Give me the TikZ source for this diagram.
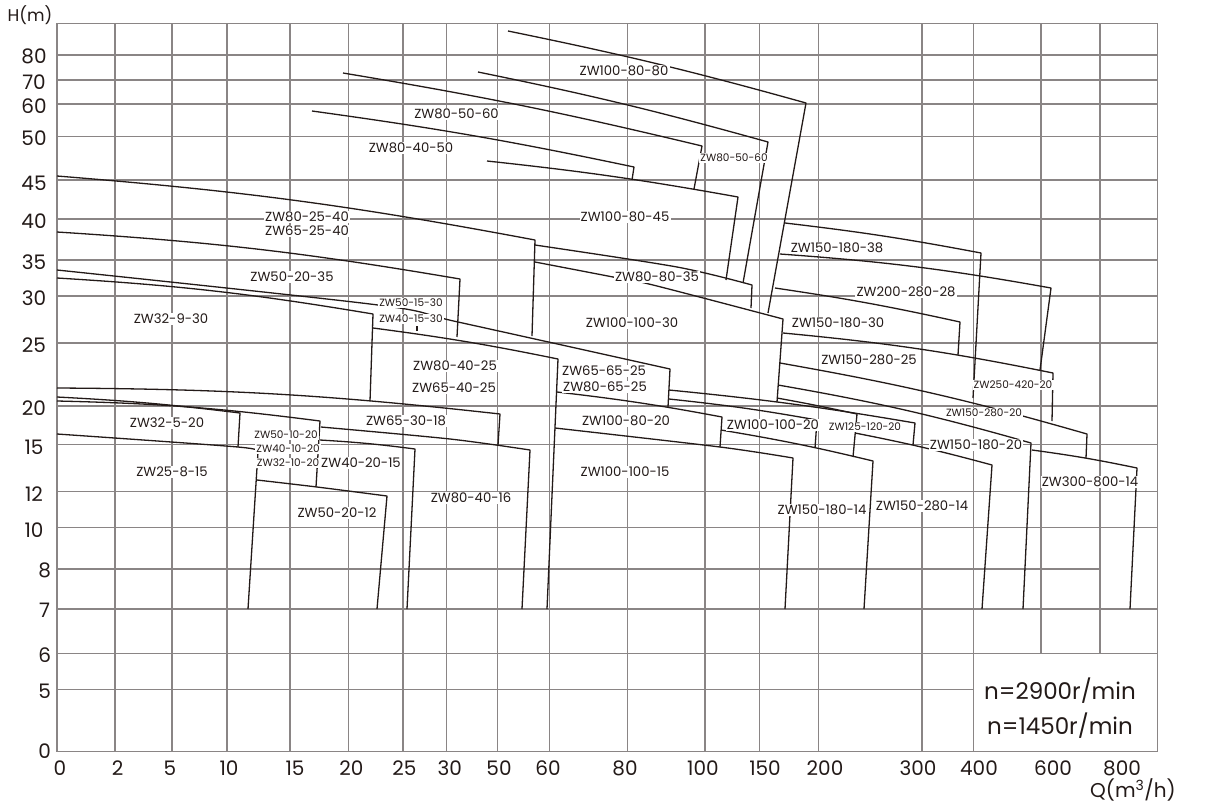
\documentclass[tikz,border=0pt]{standalone}
\usepackage{fontspec}
\setmainfont{Poppins}
\definecolor{gridc}{RGB}{138,133,133}
\definecolor{curvec}{RGB}{35,26,24}
\begin{document}
\begin{tikzpicture}[x=1pt,y=-1pt,
  gridline/.style={draw=gridc, line width=1.2pt},
  curve/.style={draw=curvec, line width=1.3pt, line join=round},
  lab/.style={fill=white, text=curvec, inner xsep=1.2pt, inner ysep=0.8pt, font=\fontsize{13.2}{15}\selectfont},
  labs/.style={lab, font=\fontsize{10.5}{12}\selectfont},
  axl/.style={text=curvec, inner sep=0pt, font=\fontsize{20}{22}\selectfont},
  legl/.style={text=curvec, inner sep=0pt, font=\fontsize{23}{26}\selectfont},
]
\fill[white] (0,0) rectangle (1220,804);
\useasboundingbox (0,0) rectangle (1220,804);

% ---------- grid ----------
\foreach \y in {55,80,104,136.3,180,219,260,296,343,406,444.7,491.7,527.7,609,653.3}
  \draw[gridline] (57,\y) -- (1157.5,\y);
\draw[gridline] (57,569) -- (1100,569);
\draw[gridline] (57,689.3) -- (973.5,689.3);
\foreach \x in {115,172,227,290,348.3,403,446.7,497.7,549.3,627.5,705,759.2,818.7,922,973.5}
  \draw[gridline] (\x,23.7) -- (\x,751.7);
\draw[gridline] (1041,23.7) -- (1041,653.3);
\draw[gridline] (1100,23.7) -- (1100,653.3);
\draw[gridline, line width=1.5pt] (57,23.7) rectangle (1157.5,751.7);

% ---------- curves ----------
% upper group
\draw[curve] (508,31) to[bend left=2] (806,103) -- (768,313);
\draw[curve] (478,72) to[bend left=2] (768,142) -- (743,283);
\draw[curve] (343,73) to[bend left=2] (702,146) -- (694,189);
\draw[curve] (312,111) to[bend left=2] (634,167) -- (632,180);
\draw[curve] (487,161) to[bend left=2] (738,197) -- (726,280);
\draw[curve] (57,176) to[bend left=3] (535,240) -- (532,336);
\draw[curve] plot[smooth, tension=0.5] coordinates {(535,245) (677,267) (752,285)} -- (751,308);
\draw[curve] plot[smooth, tension=0.5] coordinates {(535,262) (613,277) (653,285) (783,319)} -- (777,402);
\draw[curve] (57,232) to[bend left=3] (460,279) -- (457,337);
\draw[curve] plot[smooth, tension=0.5] coordinates {(57,270) (378,305) (458,322) (670,369)} -- (668,407);
\draw[curve] (57,278) to[bend left=3] (373,314) -- (370,401);
\draw[curve] (373,328) to[bend left=2] (558,359) -- (547,609);
\draw[curve] (417,326) -- (417,331);
% lower left group
\draw[curve] (57,388) to[bend left=3] (500,414) -- (498,445);
\draw[curve] (57,397) to[bend left=2] (240,413) -- (238,447);
\draw[curve] (57,401) to[bend left=3] (320,421) -- (316,487);
\draw[curve] plot[smooth, tension=0.5] coordinates {(321,427) (450,439) (530,450)} -- (522,609);
\draw[curve] (320,440) to[bend left=2] (415,449) -- (407,609);
\draw[curve] plot[smooth, tension=0.5] coordinates {(57,434) (238,447) (258,452)} -- (248,609);
\draw[curve] plot[smooth, tension=0.5] coordinates {(257,480) (317,487) (387,496)} -- (377,609);
% middle group
\draw[curve] plot[smooth, tension=0.5] coordinates {(555,428) (720,447) (793,458)} -- (785,609);
\draw[curve] (557,392) to[bend left=2] (722,417) -- (720,447);
\draw[curve] (721,430) to[bend left=2] (873,461) -- (864,609);
\draw[curve] (669,390) to[bend left=2] (915,423) -- (913,445);
\draw[curve] (669,399) to[bend left=2] (817,420) -- (815,448);
\draw[curve] (777,398) to[bend left=1] (857,414) -- (853,457);
\draw[curve] (855,433) to[bend left=2] (992,465) -- (982,609);
% right group
\draw[curve] (778,385) to[bend left=3] (1031,443) -- (1023,609);
\draw[curve] (1032,450) to[bend left=2] (1137,468) -- (1130,609);
\draw[curve] (780,363) to[bend left=3] (1087,434) -- (1086,458);
\draw[curve] (783,333) to[bend left=3] (1053,373) -- (1052,421);
\draw[curve] (775,288) to[bend left=2] (960,322) -- (958,355);
\draw[curve] (780,254) to[bend left=3] (1051,288) -- (1040,370);
\draw[curve] (785,223) to[bend left=2] (981,253) -- (973,398);

% ---------- curve labels ----------
\node[lab]  (l1)  at (624,71)  {ZW100-80-80};
\node[lab]  (l2)  at (456.5,114) {ZW80-50-60};
\node[lab]  (l3)  at (411,148) {ZW80-40-50};
\node[labs] (l4)  at (734,158) {ZW80-50-60};
\node[lab]  (l5)  at (625,217) {ZW100-80-45};
\node[lab]  (l6)  at (307,217) {ZW80-25-40};
\node[lab]  (l7)  at (307,231) {ZW65-25-40};
\node[lab]  (l8)  at (292,277) {ZW50-20-35};
\node[labs] (l9)  at (411,303) {ZW50-15-30};
\node[labs] (l10) at (411,319) {ZW40-15-30};
\node[lab]  (l11) at (171,319) {ZW32-9-30};
\node[lab]  (l12) at (455,366) {ZW80-40-25};
\node[lab]  (l13) at (454,388) {ZW65-40-25};
\node[lab]  (l14) at (604,371) {ZW65-65-25};
\node[lab]  (l15) at (605,387) {ZW80-65-25};
\node[lab]  (l16) at (632,323) {ZW100-100-30};
\node[lab]  (l17) at (657,277) {ZW80-80-35};
\node[lab]  (l18) at (406,421) {ZW65-30-18};
\node[lab]  (l19) at (167,423) {ZW32-5-20};
\node[lab]  (l20) at (172,472) {ZW25-8-15};
\node[labs] (l21) at (286,435) {ZW50-10-20};
\node[labs] (l22) at (288,449) {ZW40-10-20};
\node[labs] (l23) at (288,463) {ZW32-10-20};
\node[lab]  (l24) at (361,463) {ZW40-20-15};
\node[lab]  (l25) at (337,513) {ZW50-20-12};
\node[lab]  (l26) at (471,498) {ZW80-40-16};
\node[lab]  (l27) at (626,421) {ZW100-80-20};
\node[lab]  (l28) at (625,472) {ZW100-100-15};
\node[lab]  (l29) at (773,425) {ZW100-100-20};
\node[labs] (l30) at (865,427) {ZW125-120-20};
\node[lab]  (l31) at (976,445) {ZW150-180-20};
\node[labs] (l32) at (984,413) {ZW150-280-20};
\node[labs] (l33) at (1013,385) {ZW250-420-20};
\node[lab]  (l34) at (869,360) {ZW150-280-25};
\node[lab]  (l35) at (838,323) {ZW150-180-30};
\node[lab]  (l36) at (906,292) {ZW200-280-28};
\node[lab]  (l37) at (837,248) {ZW150-180-38};
\node[lab]  (l38) at (822,510) {ZW150-180-14};
\node[lab]  (l39) at (922,506) {ZW150-280-14};
\node[lab]  (l40) at (1090,482) {ZW300-800-14};

% ---------- axis labels ----------
\node[axl] (hax) at (30,15) {\fontsize{17}{19}\selectfont H(m)};
\foreach \v/\y in {80/56.7,70/81.7,60/106,50/138,45/183,40/221,35/262,30/298,25/345,20/408,15/447,12/494,10/530}
  \node[axl] (y\v) at (34,\y) {\v};
\foreach \v/\y in {8/570,7/610,6/655,5/691,0/751}
  \node[axl] (ys\v) at (44.7,\y) {\v};
\foreach \v/\x in {0/60,2/117.6,5/170,10/229,15/295,20/351.3,25/404.3,30/449.7,50/499,60/548,80/625,100/703,150/765,200/825,300/918,400/979,600/1053,800/1122}
  \node[axl] (x\v) at (\x,768) {\v};
\node[axl] (qax) at (1133,790) {Q(m\textsuperscript{3}/h)};

% ---------- legend ----------
\node[legl] (n1) at (1060,691) {n=2900r/min};
\node[legl] (n2) at (1060,726) {n=1450r/min};
\end{tikzpicture}
\end{document}
